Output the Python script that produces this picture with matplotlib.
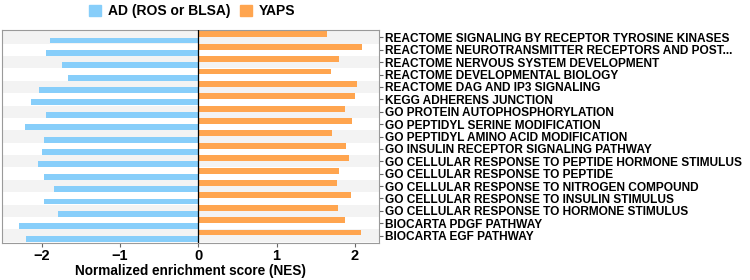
import matplotlib.pyplot as plt
import numpy as np
from matplotlib.patches import Patch

plt.rcParams["font.family"] = ["Liberation Sans", "DejaVu Sans"]
plt.rcParams["font.weight"] = "bold"

# Gene sets, top to bottom
pathways = [
    "REACTOME SIGNALING BY RECEPTOR TYROSINE KINASES",
    "REACTOME NEUROTRANSMITTER RECEPTORS AND POST...",
    "REACTOME NERVOUS SYSTEM DEVELOPMENT",
    "REACTOME DEVELOPMENTAL BIOLOGY",
    "REACTOME DAG AND IP3 SIGNALING",
    "KEGG ADHERENS JUNCTION",
    "GO PROTEIN AUTOPHOSPHORYLATION",
    "GO PEPTIDYL SERINE MODIFICATION",
    "GO PEPTIDYL AMINO ACID MODIFICATION",
    "GO INSULIN RECEPTOR SIGNALING PATHWAY",
    "GO CELLULAR RESPONSE TO PEPTIDE HORMONE STIMULUS",
    "GO CELLULAR RESPONSE TO PEPTIDE",
    "GO CELLULAR RESPONSE TO NITROGEN COMPOUND",
    "GO CELLULAR RESPONSE TO INSULIN STIMULUS",
    "GO CELLULAR RESPONSE TO HORMONE STIMULUS",
    "BIOCARTA PDGF PATHWAY",
    "BIOCARTA EGF PATHWAY",
]
nes_ad = [-1.90, -1.95, -1.74, -1.66, -2.04, -2.14, -1.95, -2.22, -1.97,
          -2.00, -2.05, -1.97, -1.85, -1.97, -1.79, -2.29, -2.20]
nes_yaps = [1.64, 2.09, 1.80, 1.69, 2.03, 2.00, 1.88, 1.96, 1.71,
            1.89, 1.93, 1.80, 1.77, 1.95, 1.79, 1.88, 2.08]

blue = "#87CEFA"
orange = "#FFA54F"

fig = plt.figure(figsize=(7.5, 2.8), dpi=100)
ax = fig.add_axes([2 / 750, 1 - 243 / 280, 377 / 750, 213 / 280])

n = len(pathways)
y = np.arange(n)[::-1]

# alternating row shading
for i in range(0, n, 2):
    ax.axhspan(y[i] - 0.5, y[i] + 0.5, color="#F3F3F3", lw=0, zorder=0)

ax.barh(y + 0.25, nes_yaps, height=0.48, color=orange, zorder=2)
ax.barh(y - 0.25, nes_ad, height=0.48, color=blue, zorder=2)
ax.axvline(0, color="black", lw=0.9, zorder=3)

ax.set_xlim(-2.51, 2.31)
ax.set_ylim(-0.6, n - 0.4)
ax.set_xticks([-2, -1, 0, 1, 2])
ax.set_xticklabels(["\u22122", "\u22121", "0", "1", "2"], fontsize=10.5, fontweight="bold")
ax.set_yticks(y)
ax.set_yticklabels(pathways, fontsize=8.6, fontweight="bold")
ax.yaxis.tick_right()
ax.tick_params(axis="y", length=3, color="#666666", pad=1.5)
ax.tick_params(axis="x", length=3, color="#666666", pad=1)
for s in ax.spines.values():
    s.set_color("#9A9A9A")
    s.set_linewidth(0.8)
ax.set_xlabel("Normalized enrichment score (NES)", fontsize=9.8, fontweight="bold", labelpad=1)

handles = [Patch(color=blue, label="AD (ROS or BLSA)"), Patch(color=orange, label="YAPS")]
fig.legend(handles=handles, loc="center", bbox_to_anchor=(192 / 750, 1 - 11 / 280), ncol=2,
           frameon=False, prop={"size": 10, "weight": "bold"}, handlelength=0.85,
           handleheight=0.85, handletextpad=0.5, columnspacing=0.7, borderpad=0)

fig.savefig("out.png", dpi=100)
